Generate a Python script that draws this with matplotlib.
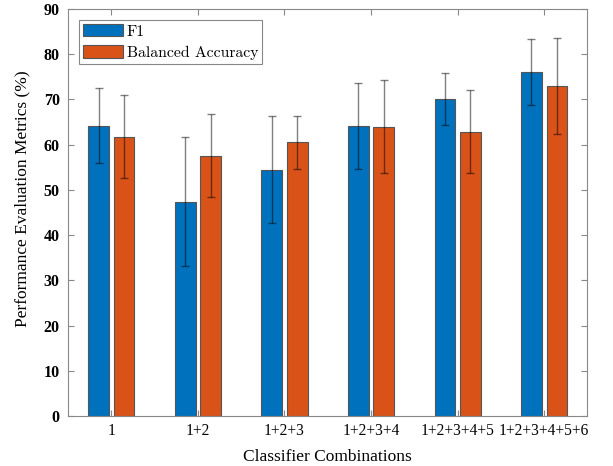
import matplotlib
matplotlib.use("Agg")
import matplotlib.pyplot as plt
import numpy as np

categories = ["1", "1+2", "1+2+3", "1+2+3+4", "1+2+3+4+5", "1+2+3+4+5+6"]
f1 = [64.2, 47.4, 54.5, 64.2, 70.1, 76.1]
f1_err = [8.25, 14.2, 11.85, 9.5, 5.85, 7.35]
ba = [61.8, 57.6, 60.5, 64.0, 62.9, 72.9]
ba_err = [9.1, 9.25, 5.8, 10.25, 9.15, 10.6]
series_labels = ["F1", "Balanced Accuracy"]
yticks = [0, 10, 20, 30, 40, 50, 60, 70, 80, 90]

fig = plt.figure(figsize=(6.13, 4.66), dpi=100)
ax = fig.add_axes([0.1109, 0.1073, 0.8475, 0.8734])

x = np.arange(1, len(categories) + 1)
off = 0.147
w = 0.24
blue = "#0072BD"
orange = "#D95319"
ax.bar(x - off, f1, w, color=blue, edgecolor="#555555", linewidth=0.8, label=series_labels[0], zorder=2)
ax.bar(x + off, ba, w, color=orange, edgecolor="#555555", linewidth=0.8, label=series_labels[1], zorder=2)
for xs, vals, errs in [(x - off, f1, f1_err), (x + off, ba, ba_err)]:
    ax.errorbar(xs, vals, yerr=errs, fmt="none", ecolor="black", elinewidth=1.0,
                capsize=3, capthick=1.0, alpha=0.5, zorder=3)

ax.set_xlim(0.5, 6.5)
ax.set_ylim(0, 90)
ax.set_xticks(x)
ax.set_xticklabels(categories, fontfamily="Liberation Serif", fontsize=11.2)
ax.set_yticks(yticks)
ax.set_yticklabels([str(t) for t in yticks], fontfamily="Liberation Serif", fontsize=11.5, fontweight="bold")
ax.tick_params(direction="in", top=True, right=True, length=4, color="#888888")
ax.tick_params(axis="x", pad=5)
ax.tick_params(axis="y", pad=6)
for s in ax.spines.values():
    s.set_color("#888888")
    s.set_linewidth(0.8)

ax.set_xlabel("Classifier Combinations", fontfamily="Liberation Serif", fontsize=12.5, labelpad=7)
ax.set_ylabel("Performance Evaluation Metrics (%)", fontfamily="Liberation Serif", fontsize=12.5)
ax.yaxis.set_label_coords(-0.073, 0.535)

leg = ax.legend(loc="upper left", bbox_to_anchor=(0.021, 0.973), prop={"family": "cmr10", "size": 11.3},
                fancybox=False, edgecolor="#888888", handlelength=2.55, handleheight=0.85,
                borderpad=0.25, borderaxespad=0, labelspacing=0.42, handletextpad=0.25, framealpha=1)
leg.get_frame().set_linewidth(0.8)

fig.savefig("out.png", dpi=100)
